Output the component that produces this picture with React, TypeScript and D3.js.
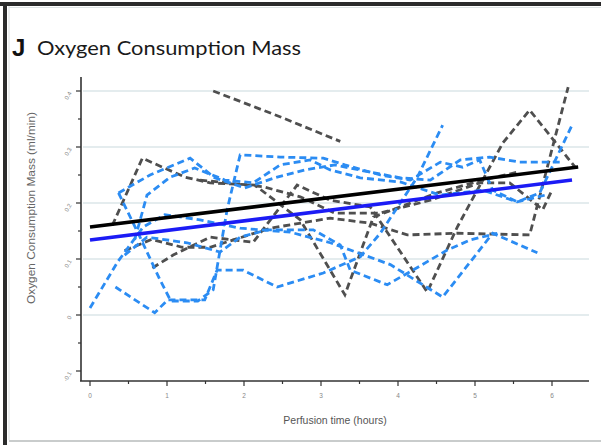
import React from "react";
import * as d3 from "d3";

// ---- data (time in hours, oxygen consumption mass in ml/min) ----
const xTicks = [0, 1, 2, 3, 4, 5, 6];
const yTicks = [-0.1, 0, 0.1, 0.2, 0.3, 0.4];
const yTickLabels = ["-0.1", "0", "0.1", "0.2", "0.3", "0.4"];
const gridValues = [0, 0.1, 0.2, 0.3, 0.4];

const greySeries: number[][][] = [
  [[1.6, 0.4], [2.45, 0.355], [3.25, 0.31]],
  [[0.29, 0.16], [0.68, 0.28], [0.94, 0.264], [1.24, 0.246], [1.56, 0.236], [2.14, 0.232], [2.73, 0.17], [3.31, 0.036], [3.68, 0.175], [4.51, 0.218], [5.1, 0.241], [5.55, 0.255]],
  [[0.81, 0.084], [1.08, 0.107], [1.56, 0.139], [2.12, 0.13], [2.69, 0.232], [3.12, 0.205], [3.64, 0.193], [4.38, 0.041], [4.77, 0.157], [5.36, 0.307], [5.71, 0.366], [6.3, 0.264]],
  [[0.45, 0.115], [0.8, 0.135], [1.2, 0.121], [1.56, 0.121], [2.34, 0.155], [3.12, 0.173], [3.64, 0.164], [4.12, 0.143], [4.77, 0.146], [5.71, 0.143], [6.21, 0.407]],
  [[1.43, 0.241], [2.25, 0.229], [2.73, 0.211], [3.18, 0.182], [3.77, 0.182], [4.42, 0.205], [5.06, 0.236], [5.45, 0.236], [5.88, 0.188], [6.0, 0.223]],
];

const blueSeries: number[][][] = [
  [[0, 0.0125], [0.36, 0.095], [0.69, 0.157], [0.97, 0.179], [1.43, 0.17], [1.95, 0.155], [2.6, 0.148], [3.12, 0.129], [3.9, 0.09], [4.58, 0.032], [4.94, 0.095], [5.23, 0.146], [5.81, 0.111]],
  [[0.33, 0.05], [0.84, 0.004], [1.01, 0.027], [1.49, 0.027], [1.65, 0.08], [1.99, 0.08], [2.43, 0.05], [3.03, 0.075], [3.51, 0.104], [3.77, 0.146], [4.25, 0.246], [4.58, 0.339]],
  [[0.37, 0.218], [0.78, 0.25], [1.3, 0.28], [1.62, 0.245], [2.01, 0.227], [2.4, 0.245], [2.79, 0.259], [3.18, 0.268], [3.64, 0.255], [4.03, 0.245], [4.42, 0.241], [4.81, 0.277], [5.19, 0.282], [5.58, 0.273], [6.1, 0.273]],
  [[0.37, 0.218], [0.65, 0.139], [0.91, 0.0625], [1.05, 0.025], [1.4, 0.025], [1.6, 0.045], [1.78, 0.1875], [1.95, 0.286], [2.47, 0.282], [3.03, 0.28], [3.31, 0.268], [3.77, 0.25], [4.16, 0.241], [4.55, 0.273], [4.84, 0.264], [5.06, 0.277], [5.23, 0.223], [5.55, 0.202], [5.84, 0.218], [6.26, 0.339]],
  [[0.45, 0.107], [0.74, 0.139], [1.26, 0.129], [1.69, 0.1125], [1.95, 0.139], [2.3, 0.152], [2.9, 0.152], [3.25, 0.125], [3.38, 0.08], [3.86, 0.054], [4.19, 0.08], [4.64, 0.116], [4.94, 0.134], [5.29, 0.146]],
  [[0.58, 0.134], [0.74, 0.214], [1.04, 0.246], [1.36, 0.2625], [1.75, 0.241], [2.12, 0.236], [2.47, 0.268], [2.86, 0.277], [3.12, 0.259], [3.51, 0.245], [4.03, 0.2375], [4.55, 0.214], [5.1, 0.223], [5.55, 0.202], [5.91, 0.214]],
];

// regression fits: [intercept, slope, end time]
const fitAll = [0.157, 0.0169, 6.34];
const fitBlue = [0.134, 0.0171, 6.26];

const W = 601;
const H = 445;

export default function App() {
  const x = d3.scaleLinear().domain([0, 6]).range([90, 552]);
  const y = d3.scaleLinear().domain([-0.1, 0.4]).range([371, 91]);
  const line = d3
    .line<number[]>()
    .x((d) => x(d[0]))
    .y((d) => y(d[1]));

  const fitLine = (f: number[]) => [
    [0, f[0]],
    [f[2], f[0] + f[1] * f[2]],
  ];

  const yMinor = d3.range(-0.1, 0.4001, 0.05);
  const xMinor = d3.range(0, 6.0001, 0.5);
  const axisColor = "#333";

  return (
    <svg
      width={W}
      height={H}
      style={{ position: "absolute", left: 0, top: 0, background: "#fff" }}
    >
      {/* frame */}
      <rect x={0} y={0} width={W} height={H} fill="#fff" />
      <rect x={0} y={2} width={W} height={4} fill="#2b2b2b" />
      <rect x={3} y={2} width={4} height={H - 2} fill="#2b2b2b" />
      <line x1={9} x2={9} y1={6} y2={440} stroke="#d8dedf" strokeWidth={1} />
      <line x1={9} x2={W} y1={7.5} y2={7.5} stroke="#dde3e4" strokeWidth={1} />
      <line x1={9} x2={W} y1={441} y2={441} stroke="#c9cccc" strokeWidth={2} />

      {/* title */}
      <text x={12} y={56} fontFamily="Liberation Sans, Arial, sans-serif" fontWeight="bold" fontSize={24} fill="#111">
        J
      </text>
      <text
        x={37}
        y={55}
        fontFamily="Lato, 'Open Sans', sans-serif"
        fontSize={19}
        fill="#1a1a1a"
        textLength={264}
        lengthAdjust="spacingAndGlyphs"
      >
        Oxygen Consumption Mass
      </text>

      {/* gridlines */}
      {gridValues.map((v) => (
        <line key={"g" + v} x1={83} x2={589} y1={y(v)} y2={y(v)} stroke="#e4ecee" strokeWidth={2} />
      ))}

      {/* grey dashed series */}
      {greySeries.map((s, i) => (
        <path
          key={"gs" + i}
          d={line(s) || ""}
          fill="none"
          stroke="#4f4f4f"
          strokeWidth={2.8}
          strokeDasharray="7,4"
        />
      ))}
      {/* blue dashed series */}
      {blueSeries.map((s, i) => (
        <path
          key={"bs" + i}
          d={line(s) || ""}
          fill="none"
          stroke="#2b8cf3"
          strokeWidth={2.8}
          strokeDasharray="7,4"
        />
      ))}

      {/* fits */}
      <path d={line(fitLine(fitAll)) || ""} fill="none" stroke="#000" strokeWidth={3.6} />
      <path d={line(fitLine(fitBlue)) || ""} fill="none" stroke="#1b1bf5" strokeWidth={3.6} />

      {/* y axis */}
      <line x1={81} x2={81} y1={77} y2={381} stroke={axisColor} strokeWidth={1.6} />
      {yMinor.map((v, i) => (
        <line key={"ym" + i} x1={i % 2 === 0 ? 76 : 78} x2={81} y1={y(v)} y2={y(v)} stroke={axisColor} strokeWidth={1.2} />
      ))}
      {yTicks.map((v, i) => (
        <text
          key={"yl" + i}
          x={0}
          y={0}
          transform={`translate(72,${y(v) + 2}) rotate(-60)`}
          textAnchor="end"
          fontFamily="Liberation Sans, Arial, sans-serif"
          fontSize={6}
          fill="#888"
        >
          {yTickLabels[i]}
        </text>
      ))}
      <text
        transform={`translate(35,208) rotate(-90)`}
        textAnchor="middle"
        fontFamily="Liberation Sans, Arial, sans-serif"
        fontSize={10.5}
        fill="#666"
        textLength={192}
        lengthAdjust="spacingAndGlyphs"
      >
        Oxygen Consumption Mass (ml/min)
      </text>

      {/* x axis */}
      <line x1={80} x2={589} y1={381} y2={381} stroke={axisColor} strokeWidth={1.6} />
      {xMinor.map((v, i) => (
        <line key={"xm" + i} x1={x(v)} x2={x(v)} y1={381} y2={i % 2 === 0 ? 386 : 384} stroke={axisColor} strokeWidth={1.2} />
      ))}
      {xTicks.map((v) => (
        <text
          key={"xl" + v}
          x={x(v)}
          y={398}
          textAnchor="middle"
          fontFamily="Liberation Sans, Arial, sans-serif"
          fontSize={6.5}
          fill="#888"
        >
          {v}
        </text>
      ))}
      <text
        x={335}
        y={424}
        textAnchor="middle"
        fontFamily="Liberation Sans, Arial, sans-serif"
        fontSize={10.5}
        fill="#555"
      >
        Perfusion time (hours)
      </text>
    </svg>
  );
}
